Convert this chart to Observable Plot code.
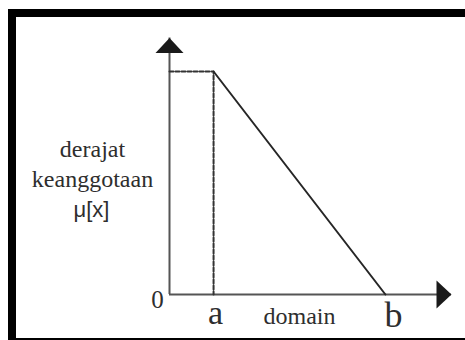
<!DOCTYPE html>
<html>
<head>
<meta charset="utf-8">
<script src="https://cdn.jsdelivr.net/npm/d3@7"></script>
<script src="https://cdn.jsdelivr.net/npm/@observablehq/plot@0.6"></script>
<style>
  html, body { margin: 0; padding: 0; background: #fff; overflow: hidden; }
  #wrap { position: relative; width: 465px; height: 340px; }
  #border { position: absolute; left: 8px; top: 9px; width: 480px; height: 331px; box-sizing: border-box;
            border-left: 8px solid #000; border-top: 8px solid #000; border-bottom: 2px solid #000; pointer-events: none; }
</style>
</head>
<body>
<div id="wrap"><div id="border"></div></div>
<script>
// Membership function (decreasing linear / "linear turun")
const pointLabels = ["0", "a", "b"];
const pointX = [0, 1, 4.9];            // domain positions of 0, a, b
const membership = [1, 1, 0];          // μ at 0, a, b
const xAxisEnd = 6.4;                  // arrow tip of domain axis
const yAxisEnd = 1.15;                 // arrow tip of μ axis
const yLabelLines = ["derajat", "keanggotaan"];
const yLabelSymbol = "μ[x]";
const xLabel = "domain";

const dashed = [
  {x: pointX[0], y: membership[0]},
  {x: pointX[1], y: membership[1]},
  {x: pointX[1], y: 0}
];
const solid = [
  {x: pointX[1], y: membership[1]},
  {x: pointX[2], y: membership[2]}
];

const arrowUp = {draw(ctx) { ctx.moveTo(0, 0); ctx.lineTo(14, 15); ctx.lineTo(-14, 15); ctx.closePath(); }};
const arrowRight = {draw(ctx) { ctx.moveTo(0, 0); ctx.lineTo(-15, 14); ctx.lineTo(-15, -14); ctx.closePath(); }};

const serif = "Liberation Serif, Times New Roman, serif";
const ink = "#2e2e2e";

const chart = Plot.plot({
  width: 465,
  height: 340,
  margin: 0,
  x: {domain: [0, xAxisEnd], range: [169, 451], axis: null},
  y: {domain: [0, 1], range: [294, 71], axis: null},
  marks: [
    Plot.ruleX([0], {y1: 0, y2: yAxisEnd, stroke: "#555", strokeWidth: 2}),
    Plot.ruleY([0], {x1: 0, x2: xAxisEnd, stroke: "#555", strokeWidth: 2}),
    Plot.dot([{x: 0, y: yAxisEnd}], {x: "x", y: "y", symbol: arrowUp, fill: "#1a1a1a", stroke: null, r: 5}),
    Plot.dot([{x: xAxisEnd, y: 0}], {x: "x", y: "y", symbol: arrowRight, fill: "#1a1a1a", stroke: null, r: 5}),
    Plot.line(dashed, {x: "x", y: "y", stroke: "#333", strokeWidth: 2, strokeDasharray: "4,2"}),
    Plot.line(solid, {x: "x", y: "y", stroke: "#262626", strokeWidth: 2}),
    Plot.text([pointLabels[0]], {x: pointX[0], y: 0, text: d => d, dx: -12, dy: 13, lineAnchor: "bottom", fontSize: 25, fontFamily: serif, fill: ink}),
    Plot.text([pointLabels[1]], {x: pointX[1], y: 0, text: d => d, dx: 2, dy: 29, lineAnchor: "bottom", fontSize: 34, fontFamily: serif, fill: ink}),
    Plot.text([pointLabels[2]], {x: pointX[2], y: 0, text: d => d, dx: 8, dy: 32, lineAnchor: "bottom", fontSize: 36, fontFamily: serif, fill: ink}),
    Plot.text([xLabel], {x: (pointX[1] + pointX[2]) / 2, y: 0, text: d => d, dy: 29, lineAnchor: "bottom", fontSize: 24, fontFamily: serif, fill: ink}),
    Plot.text([yLabelLines.join("\n")], {x: 0, y: 0, text: d => d, dx: -77, dy: -108, lineAnchor: "bottom", lineHeight: 1.25, fontSize: 24, fontFamily: serif, fill: ink}),
    Plot.text([yLabelSymbol], {x: 0, y: 0, text: d => d, dx: -78, dy: -78, lineAnchor: "bottom", fontSize: 22, fontFamily: "Liberation Sans, Arial, sans-serif", fill: ink})
  ]
});
chart.style.position = "absolute";
chart.style.left = "0";
chart.style.top = "0";
document.getElementById("wrap").insertBefore(chart, document.getElementById("border"));
</script>
</body>
</html>
